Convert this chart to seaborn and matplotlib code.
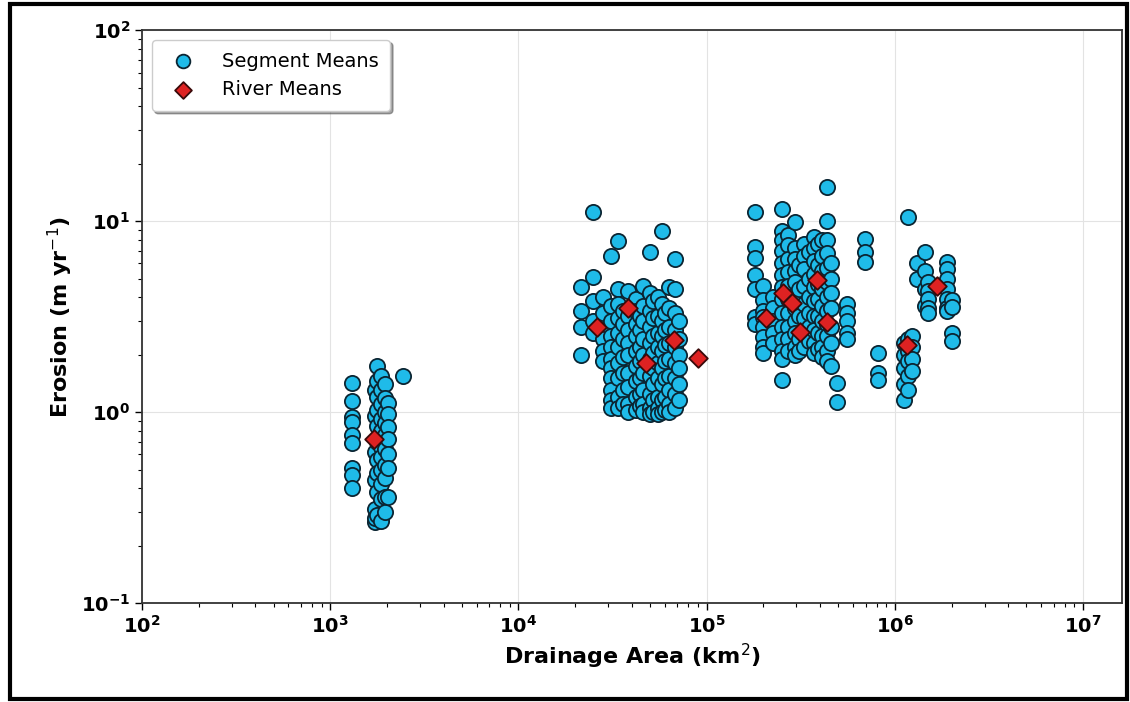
import numpy as np
import pandas as pd
import seaborn as sns
import matplotlib.pyplot as plt
from matplotlib.patches import Rectangle
from matplotlib.ticker import FuncFormatter

# Segment means
# (drainage area in km2, erosion in m/yr)
small_area = [1.31e3, 1.72e3, 1.78e3, 1.86e3, 1.95e3, 2.02e3, 2.45e3]
small_erosion = [
    [1.42, 1.14, 0.94, 0.89, 0.76, 0.69, 0.51, 0.47, 0.40],
    [1.3, 0.95, 0.62, 0.44, 0.31, 0.265, 0.28],
    [1.74, 1.45, 1.2, 1.02, 0.85, 0.7, 0.56, 0.48, 0.38, 0.29],
    [1.55, 1.3, 1.1, 0.92, 0.8, 0.66, 0.58, 0.5, 0.42, 0.35, 0.27],
    [1.4, 1.18, 1.0, 0.88, 0.76, 0.64, 0.53, 0.45, 0.36, 0.3],
    [1.12, 0.98, 0.84, 0.72, 0.6, 0.51, 0.36],
    [1.54],
]

mid_area = [2.15e4, 2.5e4, 2.8e4, 3.1e4, 3.4e4, 3.6e4, 3.8e4, 4.2e4, 4.4e4,
            4.6e4, 5.0e4, 5.2e4, 5.5e4, 5.8e4, 6.0e4, 6.3e4, 6.8e4, 7.1e4]
mid_erosion = [
    [4.5, 3.4, 2.8, 2.0],
    [11.1, 5.1, 3.8, 3.0, 2.6],
    [4.0, 3.3, 2.7, 2.4, 2.1, 1.85],
    [6.6, 3.6, 3.0, 2.5, 2.2, 1.9, 1.7, 1.5, 1.3, 1.15, 1.05],
    [7.9, 4.4, 3.7, 3.1, 2.6, 2.2, 1.8, 1.5, 1.2, 1.05],
    [3.4, 2.9, 2.4, 1.95, 1.6, 1.3, 1.1],
    [4.3, 3.2, 2.7, 2.3, 2.0, 1.6, 1.35, 1.1, 1.0],
    [3.9, 3.4, 2.9, 2.5, 2.1, 1.75, 1.45, 1.2, 1.02],
    [3.2, 2.7, 2.2, 1.85, 1.5, 1.25, 1.08],
    [4.6, 3.6, 3.0, 2.4, 2.0, 1.6, 1.3, 1.1, 1.0],
    [6.9, 4.2, 3.4, 2.8, 2.3, 1.9, 1.55, 1.25, 1.05, 0.98],
    [3.8, 3.1, 2.5, 2.05, 1.7, 1.4, 1.15, 1.0],
    [4.0, 3.2, 2.6, 2.2, 1.8, 1.5, 1.2, 1.05, 0.98],
    [8.9, 3.7, 3.0, 2.5, 2.1, 1.7, 1.4, 1.15, 1.0],
    [3.3, 2.7, 2.25, 1.85, 1.5, 1.2, 1.02],
    [4.5, 3.5, 2.8, 2.3, 1.9, 1.55, 1.3, 1.1, 1.0],
    [6.3, 4.4, 3.3, 2.7, 2.2, 1.8, 1.5, 1.25, 1.05],
    [3.0, 2.4, 2.0, 1.7, 1.4, 1.15],
]

large_area = [1.8e5, 2.0e5, 2.25e5, 2.5e5, 2.7e5, 2.95e5, 3.1e5, 3.3e5, 3.5e5,
              3.7e5, 3.9e5, 4.1e5, 4.36e5, 4.6e5, 4.9e5, 5.6e5, 6.9e5]
large_erosion = [
    [11.1, 7.3, 6.4, 5.2, 4.4, 3.14, 2.9],
    [4.6, 3.85, 3.4, 3.14, 2.79, 2.47, 2.2, 2.04],
    [4.0, 3.5, 3.0, 2.6, 2.3],
    [11.6, 8.9, 8.0, 7.0, 6.0, 5.2, 4.5, 3.9, 3.3, 2.8, 2.4, 2.1, 1.9, 1.47],
    [8.5, 7.5, 6.3, 5.4, 4.6, 3.9, 3.3, 2.8, 2.4, 2.1],
    [9.9, 7.2, 6.3, 5.5, 4.8, 4.1, 3.5, 3.0, 2.6, 2.2, 2.0],
    [5.9, 4.4, 3.2, 2.4, 2.1],
    [7.6, 6.6, 5.6, 4.6, 3.7, 3.1, 2.6, 2.2],
    [6.9, 5.0, 4.0, 3.3, 2.8, 2.35],
    [8.3, 7.2, 6.2, 5.3, 4.5, 3.8, 3.2, 2.7, 2.3, 2.05],
    [7.6, 5.9, 4.7, 3.9, 3.2, 2.6, 2.15],
    [8.0, 6.6, 5.5, 4.4, 3.6, 3.0, 2.5, 2.2, 1.95],
    [15.1, 10.0, 8.0, 6.8, 5.7, 4.8, 4.0, 3.4, 2.9, 2.5, 2.1, 1.85],
    [6.0, 5.0, 4.2, 3.5, 2.8, 2.3, 1.75],
    [1.42, 1.13],
    [3.7, 3.3, 3.0, 2.6, 2.4],
    [8.1, 6.9, 6.1],
]

huge_area = [8.1e5, 1.12e6, 1.18e6, 1.24e6, 1.31e6, 1.45e6, 1.5e6, 1.9e6, 2.0e6]
huge_erosion = [
    [2.04, 1.6, 1.47],
    [2.3, 2.0, 1.7, 1.4, 1.16],
    [10.5, 2.4, 2.1, 1.85, 1.55, 1.3],
    [2.5, 2.2, 1.9, 1.65],
    [6.0, 5.0],
    [6.9, 5.5, 4.4, 3.6],
    [4.8, 4.3, 3.9, 3.5, 3.3],
    [6.1, 5.6, 5.0, 4.4, 3.9, 3.5, 3.4],
    [3.85, 3.55, 2.6, 2.35],
]

# River means (red diamonds)
river_area = [1.71e3, 2.62e4, 3.82e4, 4.77e4, 6.71e4, 9.0e4,
              2.07e5, 2.55e5, 2.85e5, 3.14e5, 3.87e5, 4.36e5, 1.16e6, 1.68e6]
river_erosion = [0.72, 2.79, 3.51, 1.81, 2.38, 1.92,
                 3.1, 4.2, 3.72, 2.62, 4.9, 2.96, 2.24, 4.6]

# flatten the column lists into one table
rows = []
for areas, erosions in [(small_area, small_erosion), (mid_area, mid_erosion),
                        (large_area, large_erosion), (huge_area, huge_erosion)]:
    for a, ys in zip(areas, erosions):
        for y in ys:
            rows.append((a, y))
segments = pd.DataFrame(rows, columns=["area", "erosion"])
rivers = pd.DataFrame({"area": river_area, "erosion": river_erosion})

sns.set_style("ticks", {"axes.grid": True, "grid.color": "#e3e3e3"})
plt.rcParams["font.family"] = ["DejaVu Sans"]
plt.rcParams["text.color"] = "black"
plt.rcParams["axes.labelcolor"] = "black"
plt.rcParams["xtick.color"] = "black"
plt.rcParams["ytick.color"] = "black"

fig = plt.figure(figsize=(11.3, 7.02), dpi=100)
ax = fig.add_axes([0.1257, 0.141, 0.8672, 0.816])

sns.scatterplot(data=segments, x="area", y="erosion", ax=ax, s=120,
                color="#1fbbe9", edgecolor="#0b2532", linewidth=1.3,
                label="Segment Means", zorder=3)
sns.scatterplot(data=rivers, x="area", y="erosion", ax=ax, s=90, marker="D",
                color="#de2222", edgecolor="#3a0a0a", linewidth=1.3,
                label="River Means", zorder=4)

ax.set_xscale("log")
ax.set_yscale("log")
ax.set_xlim(1e2, 1.61e7)
ax.set_ylim(0.1, 100)

fmt = FuncFormatter(lambda v, p: r"$\mathbf{10^{%d}}$" % round(np.log10(v)))
ax.xaxis.set_major_formatter(fmt)
ax.yaxis.set_major_formatter(fmt)
ax.tick_params(which="major", labelsize=14, length=5, width=1)
ax.tick_params(which="minor", length=3, width=0.8)

ax.set_xlabel(r"Drainage Area (km$^2$)", fontsize=16, fontweight="bold")
ax.set_ylabel(r"Erosion (m yr$^{-1}$)", fontsize=16, fontweight="bold")

for sp in ax.spines.values():
    sp.set_color("#333333")
    sp.set_linewidth(1.3)

leg = ax.legend(loc="upper left", fontsize=14, frameon=True, fancybox=True,
                shadow=True, borderpad=0.6, handletextpad=1.0, markerscale=0.9)
for t in leg.get_texts():
    t.set_color("black")

# thick black frame round the whole figure
fig.add_artist(Rectangle((0.009, 0.004), 0.988, 0.99, transform=fig.transFigure,
                         fill=False, edgecolor="black", linewidth=3))

fig.savefig("out.png", dpi=100)
